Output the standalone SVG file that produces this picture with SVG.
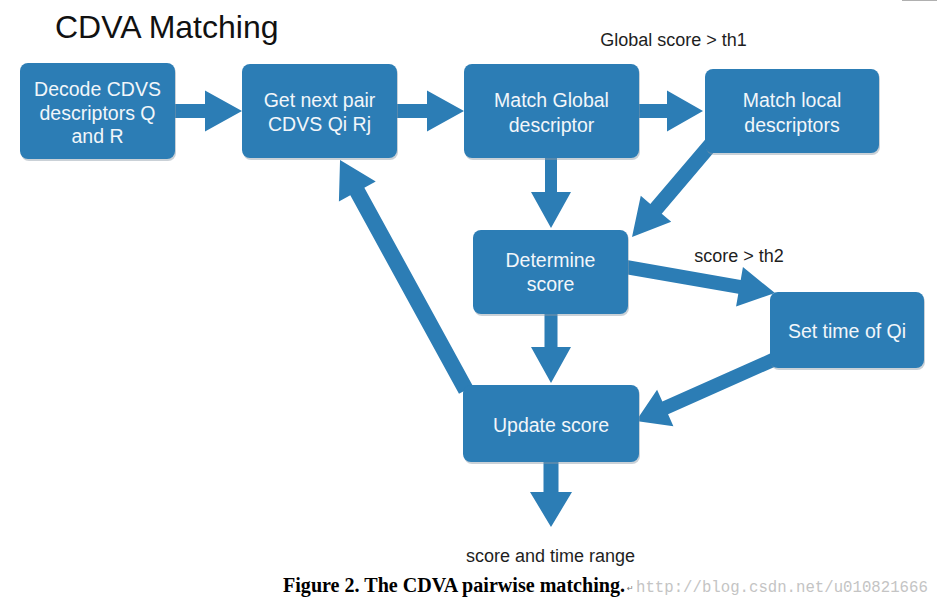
<svg xmlns="http://www.w3.org/2000/svg" width="940" height="606" viewBox="0 0 940 606">
<style>
.box{fill:#2c7db5}
.shadow{fill:#8a9aa6;opacity:.45}
.arr{fill:#2c7db5}
.bt{font-family:"Liberation Sans",Arial,sans-serif;font-size:19.5px;fill:#f2f6fa;text-anchor:middle}
.lbl{font-family:"Liberation Sans",Arial,sans-serif;font-size:18px;fill:#1e1e1e;text-anchor:middle}
</style>
<rect width="940" height="606" fill="#ffffff"/>
<line x1="902" y1="0.5" x2="937" y2="0.5" stroke="#b0b0b0" stroke-width="1"/>
<text x="55" y="38" font-family="Liberation Sans,Arial,sans-serif" font-size="32" fill="#111">CDVA Matching</text>
<g id="connectors">
<polygon class="arr" transform="translate(175,111)" points="0,-7 30,-7 30,-20.5 67,0 30,20.5 30,7 0,7"/>
<polygon class="arr" transform="translate(397,111)" points="0,-7 30,-7 30,-20.5 67,0 30,20.5 30,7 0,7"/>
<polygon class="arr" transform="translate(639,111)" points="0,-7 28,-7 28,-20.5 64,0 28,20.5 28,7 0,7"/>
<polygon class="arr" transform="translate(551,158) rotate(90)" points="0,-6 34,-6 34,-20 70,0 34,20 34,6 0,6"/>
<polygon class="arr" transform="translate(712,143) rotate(130.4)" points="0,-7.5 86.4,-7.5 86.4,-20 123.4,0 86.4,20 86.4,7.5 0,7.5"/>
<polygon class="arr" transform="translate(620,266) rotate(9.88)" points="0,-7 121.3,-7 121.3,-20 157.3,0 121.3,20 121.3,7 0,7"/>
<polygon class="arr" transform="translate(551,314) rotate(90)" points="0,-6.5 33,-6.5 33,-20 69,0 33,20 33,6.5 0,6.5"/>
<polygon class="arr" transform="translate(775,359) rotate(155.96)" points="0,-7 120.2,-7 120.2,-20 152.2,0 120.2,20 120.2,7 0,7"/>
<polygon class="arr" transform="translate(466,390) rotate(-118.7)" points="0,-8 226.3,-8 226.3,-21 262.3,0 226.3,21 226.3,8 0,8"/>
<polygon class="arr" transform="translate(551,462) rotate(90)" points="0,-7.5 30,-7.5 30,-21 65,0 30,21 30,7.5 0,7.5"/>
</g>
<g id="decode">
<rect class="shadow" x="21" y="65" width="155" height="96" rx="8"/>
<rect class="box" x="20" y="63" width="155" height="96" rx="8"/>
<text class="bt" x="97.5" y="96">Decode CDVS</text>
<text class="bt" x="97.5" y="120">descriptors Q</text>
<text class="bt" x="97.5" y="143">and R</text>
</g>
<g id="getnext">
<rect class="shadow" x="243" y="66" width="155" height="94" rx="8"/>
<rect class="box" x="242" y="64" width="155" height="94" rx="8"/>
<text class="bt" x="319.5" y="107">Get next pair</text>
<text class="bt" x="319.5" y="131">CDVS Qi Rj</text>
</g>
<g id="matchglobal">
<rect class="shadow" x="465" y="66" width="175" height="94" rx="8"/>
<rect class="box" x="464" y="64" width="175" height="94" rx="8"/>
<text class="bt" x="551.5" y="107">Match Global</text>
<text class="bt" x="551.5" y="132">descriptor</text>
</g>
<g id="matchlocal">
<rect class="shadow" x="706" y="71" width="174" height="84" rx="8"/>
<rect class="box" x="705" y="69" width="174" height="84" rx="8"/>
<text class="bt" x="792" y="107">Match local</text>
<text class="bt" x="792" y="132">descriptors</text>
</g>
<g id="determine">
<rect class="shadow" x="474" y="232" width="155" height="84" rx="8"/>
<rect class="box" x="473" y="230" width="155" height="84" rx="8"/>
<text class="bt" x="550.5" y="267">Determine</text>
<text class="bt" x="550.5" y="291">score</text>
</g>
<g id="settime">
<rect class="shadow" x="771" y="294" width="154" height="76" rx="8"/>
<rect class="box" x="770" y="292" width="154" height="76" rx="8"/>
<text class="bt" x="847" y="338">Set time of Qi</text>
</g>
<g id="update">
<rect class="shadow" x="464" y="387" width="176" height="77" rx="8"/>
<rect class="box" x="463" y="385" width="176" height="77" rx="8"/>
<text class="bt" x="551" y="432">Update score</text>
</g>
<g id="labels">
<text class="lbl" x="673.5" y="46">Global score &gt; th1</text>
<text class="lbl" x="739" y="262">score &gt; th2</text>
<text class="lbl" x="550.5" y="562">score and time range</text>
</g>
<text x="283" y="592" font-family="Liberation Serif,'Times New Roman',serif" font-weight="bold" font-size="20" fill="#000" textLength="342" lengthAdjust="spacingAndGlyphs">Figure 2. The CDVA pairwise matching.</text>
<text x="627" y="591" font-family="DejaVu Sans,sans-serif" font-size="8" fill="#777">↵</text>
<text x="636" y="592" font-family="Liberation Mono,monospace" font-size="15.7" fill="#c4c4c4">http://blog.csdn.net/u010821666</text>
</svg>
